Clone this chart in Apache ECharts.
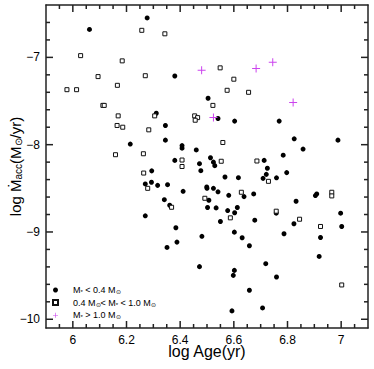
<!DOCTYPE html>
<html>
<head>
<meta charset="utf-8">
<script src="https://cdn.jsdelivr.net/npm/echarts@6/dist/echarts.min.js"></script>
<style>
    html,body{margin:0;padding:0;background:#fff;}
    #chart{width:374px;height:369px;}
</style>
</head>
<body>
<div id="chart"></div>
<script>
// tick labels
var xTicks = [6, 6.2, 6.4, 6.6, 6.8, 7];
var yTicks = [-10, -9, -8, -7];

// M* < 0.4 Msun  [log age, log Macc]
var lowMass = [
    [6.277,-6.548],[6.062,-6.68],[6.38,-7.213],[6.504,-7.468],[6.311,-7.64],
    [6.541,-7.70],[6.603,-7.73],[6.769,-7.73],[6.345,-7.78],[6.214,-7.993],
    [6.345,-7.948],[6.407,-8.01],[6.407,-8.04],[6.460,-8.06],[6.825,-7.933],
    [6.858,-8.05],[6.988,-7.948],[6.380,-8.18],[6.513,-8.15],[6.524,-8.20],
    [6.529,-8.24],[6.472,-8.218],[6.477,-8.298],[6.713,-8.18],[6.784,-8.12],
    [6.725,-8.27],[6.721,-8.34],[6.709,-8.386],[6.797,-8.32],[6.759,-8.38],
    [6.294,-8.30],[6.293,-8.43],[6.270,-8.45],[6.316,-8.466],[6.353,-8.458],
    [6.567,-8.37],[6.617,-8.378],[6.499,-8.484],[6.50,-8.50],[6.524,-8.50],
    [6.541,-8.54],[6.411,-8.534],[6.638,-8.595],[6.581,-8.58],[6.674,-8.564],
    [6.904,-8.583],[6.909,-8.564],[6.507,-8.637],[6.341,-8.63],[6.361,-8.694],
    [6.502,-8.72],[6.534,-8.724],[6.832,-8.648],[6.613,-8.72],[6.577,-8.755],
    [6.603,-8.78],[6.758,-8.785],[6.998,-8.785],[6.270,-8.815],[6.550,-8.88],
    [6.678,-8.865],[6.824,-8.906],[6.384,-8.952],[7.002,-8.937],[6.602,-9.002],
    [6.787,-9.02],[6.481,-9.05],[6.631,-9.066],[6.923,-9.063],[6.388,-9.116],
    [6.658,-9.158],[6.351,-9.177],[6.918,-9.28],[6.472,-9.397],[6.719,-9.363],
    [6.602,-9.44],[6.598,-9.497],[6.759,-9.516],[6.658,-9.668],[6.593,-9.904],
    [6.707,-9.87]
];
// 0.4 < M* < 1.0 Msun
var midMass = [
    [6.257,-6.69],[6.343,-6.73],[6.029,-6.98],[6.184,-7.04],[6.549,-7.12],
    [6.094,-7.22],[6.270,-7.21],[6.600,-7.25],[5.978,-7.37],[6.014,-7.37],
    [6.166,-7.32],[6.575,-7.377],[6.655,-7.40],[6.112,-7.55],[6.117,-7.55],
    [6.522,-7.55],[6.169,-7.67],[6.305,-7.67],[6.454,-7.67],[6.465,-7.69],
    [6.456,-7.72],[6.165,-7.78],[6.186,-7.80],[6.283,-7.83],[6.159,-8.115],
    [6.559,-7.975],[6.263,-8.104],[6.407,-8.176],[6.407,-8.25],[6.553,-8.19],
    [6.686,-8.187],[6.729,-8.42],[6.264,-8.325],[6.279,-8.50],[6.628,-8.545],
    [6.965,-8.545],[6.965,-8.587],[6.492,-8.614],[6.368,-8.717],[6.758,-8.762],
    [6.587,-8.838],[6.845,-8.854],[6.923,-8.937],[7.002,-9.607]
];
// M* > 1.0 Msun
var highMass = [
    [6.480,-7.148],[6.683,-7.126],[6.745,-7.057],[6.821,-7.518],[6.524,-7.69]
];

var FONT = 'Liberation Sans';
var frame = '#222';
var X0 = 5.9, X1 = 7.1, Y0 = -10.1, Y1 = -6.4;

// inward tick marks on all four sides, as thin rect symbols
// minor every 0.05 in x, 0.2 in y
var tickData = [];
for (var i = 1; i < 24; i++) {
    var v = +(X0 + i * 0.05).toFixed(2);
    var len = xTicks.indexOf(v) >= 0 ? 7 : 4;
    tickData.push({value: [v, Y0], symbolSize: [1.5, len], symbolOffset: [0, -len / 2]});
    tickData.push({value: [v, Y1], symbolSize: [1.5, len], symbolOffset: [0, len / 2]});
}
for (var j = 0; j <= 17; j++) {
    var w = +(-10 + j * 0.2).toFixed(1);
    var ln = yTicks.indexOf(w) >= 0 ? 7 : 4;
    tickData.push({value: [X0, w], symbolSize: [ln, 1.5], symbolOffset: [ln / 2, 0]});
    tickData.push({value: [X1, w], symbolSize: [ln, 1.5], symbolOffset: [-ln / 2, 0]});
}

var plusPath = 'path://M3.5,0h1v3.5h3.5v1h-3.5v3.5h-1v-3.5h-3.5v-1h3.5z';

var subRich = {
    t: {fontFamily: FONT, fontSize: 9, color: '#000', lineHeight: 9},
    s: {fontFamily: FONT, fontSize: 6, color: '#000', padding: [4, 0, 0, 0], lineHeight: 9}
};
var legendText = {
    low: '{t|M}{s|*}{t| < 0.4 M}{s|⊙}',
    mid: '{t|0.4 M}{s|⊙}{t|< M}{s|*}{t| < 1.0 M}{s|⊙}',
    high: '{t|M}{s|*}{t| > 1.0 M}{s|⊙}'
};

var option = {
    backgroundColor: '#fff',
    animation: false,
    grid: {left: 45, right: 6, top: 5, bottom: 41},
    xAxis: [
        {
            type: 'value', position: 'bottom', min: X0, max: X1,
            axisLine: {show: true, lineStyle: {color: frame, width: 1.5}},
            axisTick: {show: false},
            axisLabel: {show: true, customValues: xTicks, margin: 6, fontFamily: FONT,
                fontSize: 12, color: '#000'},
            splitLine: {show: false},
            name: 'log Age(yr)', nameLocation: 'middle', nameGap: 15, nameMoveOverlap: false,
            nameTextStyle: {fontFamily: FONT, fontSize: 16, color: '#000'}
        },
        {
            type: 'value', position: 'top', min: X0, max: X1,
            axisLine: {show: true, lineStyle: {color: frame, width: 1.5}},
            axisTick: {show: false}, axisLabel: {show: false}, splitLine: {show: false}
        }
    ],
    yAxis: [
        {
            type: 'value', position: 'left', min: Y0, max: Y1,
            axisLine: {show: true, lineStyle: {color: frame, width: 1.5}},
            axisTick: {show: false},
            axisLabel: {show: true, customValues: yTicks, margin: 6, fontFamily: FONT,
                fontSize: 12, color: '#000',
                formatter: function (v) { return String(v).replace('-', '\u2212'); }},
            splitLine: {show: false},
            name: 'log Ṁ{s|acc}(M{s|⊙}/yr)', nameLocation: 'middle', nameGap: 23,
            nameMoveOverlap: false,
            nameTextStyle: {fontFamily: FONT, fontSize: 15, color: '#000',
                rich: {s: {fontFamily: FONT, fontSize: 10, color: '#000', padding: [5, 0, 0, 0]}}}
        },
        {
            type: 'value', position: 'right', min: Y0, max: Y1,
            axisLine: {show: true, lineStyle: {color: frame, width: 1.5}},
            axisTick: {show: false}, axisLabel: {show: false}, splitLine: {show: false}
        }
    ],
    legend: {
        orient: 'vertical', left: 52, top: 285, padding: 0,
        itemWidth: 5, itemHeight: 5, itemGap: 2.6,
        data: ['low', 'mid', 'high'],
        formatter: function (n) { return legendText[n]; },
        textStyle: {padding: [0, 0, 0, 10], rich: subRich}
    },
    series: [
        {name: 'ticks', type: 'scatter', data: tickData, symbol: 'rect', clip: false,
            silent: true, z: 5, itemStyle: {color: frame, opacity: 1}},
        {name: 'low', type: 'scatter', data: lowMass, symbol: 'circle', symbolSize: 5,
            itemStyle: {color: '#000', opacity: 1}},
        {name: 'mid', type: 'scatter', data: midMass, symbol: 'rect', symbolSize: 4,
            itemStyle: {color: '#fff', borderColor: '#111', borderWidth: 1, opacity: 1}},
        {name: 'high', type: 'scatter', data: highMass, symbol: plusPath, symbolSize: 8,
            itemStyle: {color: '#cc44ee', opacity: 1}}
    ]
};

// svg renderer
var myChart = echarts.init(document.getElementById('chart'), null, {renderer: 'svg'});
myChart.setOption(option);
</script>
</body>
</html>
